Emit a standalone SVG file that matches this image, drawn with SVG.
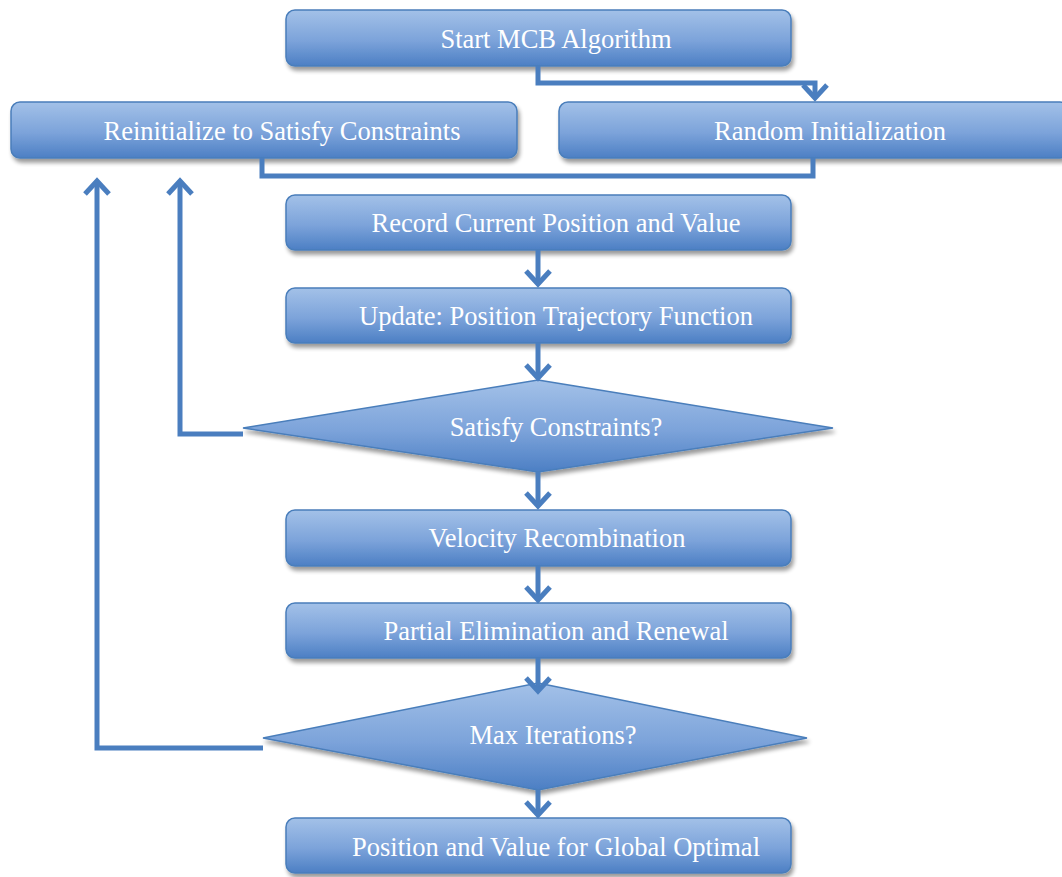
<svg xmlns="http://www.w3.org/2000/svg" width="1062" height="877" viewBox="0 0 1062 877">
<defs>
<linearGradient id="g" x1="0" y1="0" x2="0" y2="1">
<stop offset="0" stop-color="#a3c1e8"/>
<stop offset="0.55" stop-color="#7ca3da"/>
<stop offset="1" stop-color="#4c7fc4"/>
</linearGradient>
<filter id="sh" x="-10%" y="-20%" width="120%" height="150%">
<feGaussianBlur in="SourceAlpha" stdDeviation="2"/>
<feOffset dx="2" dy="4" result="b"/>
<feComponentTransfer><feFuncA type="linear" slope="0.4"/></feComponentTransfer>
<feMerge><feMergeNode/><feMergeNode in="SourceGraphic"/></feMerge>
</filter>
<marker id="ah" markerUnits="userSpaceOnUse" markerWidth="30" markerHeight="30" viewBox="-15 -15 30 30" refX="0" refY="0" orient="auto">
<path d="M-13,-12 L0,0 L-13,12" fill="none" stroke="#4a7ebf" stroke-width="5" stroke-linejoin="miter"/>
</marker>
</defs>
<style>
.box{fill:url(#g);stroke:#4a7ebb;stroke-width:1.5;filter:url(#sh)}
.t{font-family:"Liberation Serif","Times New Roman",serif;font-size:26.5px;fill:#ffffff;text-anchor:middle}
.c{fill:none;stroke:#4a7ebf;stroke-width:5}
</style>
<g id="start"><rect class="box" x="286" y="10" width="505" height="56" rx="9"/><text class="t" x="556" y="48">Start MCB Algorithm</text></g>
<g id="reinit"><rect class="box" x="11" y="102" width="506" height="56" rx="9"/><text class="t" x="282" y="140">Reinitialize to Satisfy Constraints</text></g>
<g id="random"><rect class="box" x="559" y="102" width="510" height="56" rx="9"/><text class="t" x="830" y="140">Random Initialization</text></g>
<g id="record"><rect class="box" x="286" y="195" width="505" height="55" rx="9"/><text class="t" x="556" y="232">Record Current Position and Value</text></g>
<g id="update"><rect class="box" x="286" y="288" width="505" height="55" rx="9"/><text class="t" x="556" y="325">Update: Position Trajectory Function</text></g>
<g id="satisfy"><polygon class="box" points="538,380 833,428 538,472 243,428"/><text class="t" x="556" y="436">Satisfy Constraints?</text></g>
<g id="velocity"><rect class="box" x="286" y="510" width="505" height="56" rx="9"/><text class="t" x="557" y="547">Velocity Recombination</text></g>
<g id="partial"><rect class="box" x="286" y="603" width="505" height="55" rx="9"/><text class="t" x="556" y="640">Partial Elimination and Renewal</text></g>
<g id="maxiter"><polygon class="box" points="538,683 807,738 538,790 263,738"/><text class="t" x="553" y="744">Max Iterations?</text></g>
<g id="final"><rect class="box" x="286" y="818" width="505" height="55" rx="9"/><text class="t" x="556" y="856">Position and Value for Global Optimal</text></g>
<g id="connectors">
<polyline class="c" points="538,66 538,83 815,83 815,98" marker-end="url(#ah)"/>
<polyline class="c" points="813,158 813,176 262,176 262,158"/>
<line class="c" x1="538" y1="250" x2="538" y2="284" marker-end="url(#ah)"/>
<line class="c" x1="538" y1="343" x2="538" y2="378" marker-end="url(#ah)"/>
<line class="c" x1="538" y1="472" x2="538" y2="506" marker-end="url(#ah)"/>
<line class="c" x1="538" y1="566" x2="538" y2="600" marker-end="url(#ah)"/>
<line class="c" x1="538" y1="658" x2="538" y2="691" marker-end="url(#ah)"/>
<line class="c" x1="538" y1="790" x2="538" y2="815" marker-end="url(#ah)"/>
<polyline class="c" points="243,434 180,434 180,181" marker-end="url(#ah)"/>
<polyline class="c" points="263,748 97,748 97,181" marker-end="url(#ah)"/>
</g>
</svg>
